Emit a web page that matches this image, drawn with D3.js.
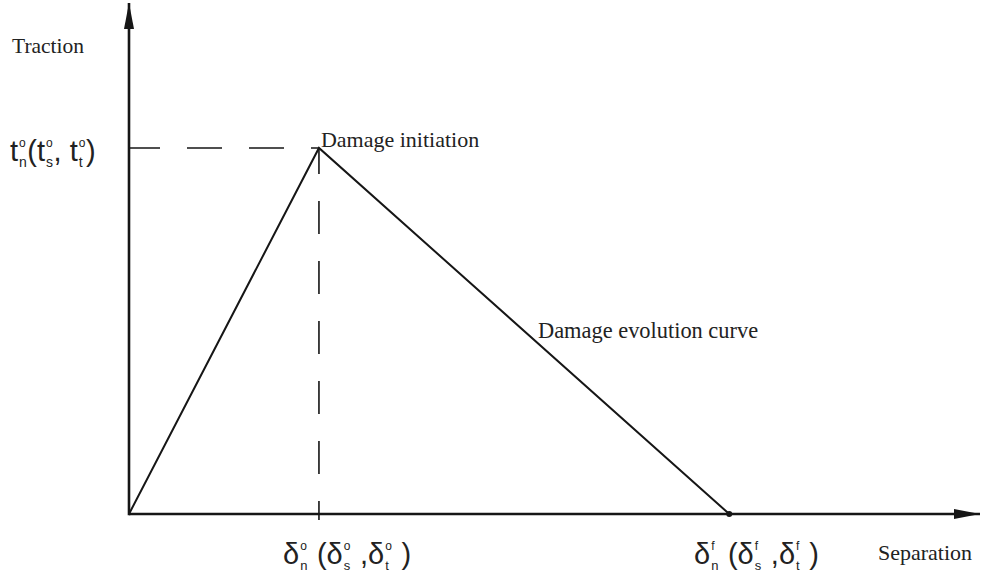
<!DOCTYPE html>
<html>
<head>
<meta charset="utf-8">
<script src="https://cdn.jsdelivr.net/npm/d3@7/dist/d3.min.js"></script>
<style>
  html, body { margin: 0; padding: 0; background: #fff; }
  svg { display: block; }
</style>
</head>
<body>
<svg id="chart" width="982" height="579"></svg>
<script>
// Bilinear traction–separation law (cohesive zone model)
const separation = [0, 1, 3.16];      // origin, damage initiation, complete failure
const traction   = [0, 1, 0];
const xAxisMax = 4.48;
const yAxisMax = 1.396;

const axisTitleX = "Separation";
const axisTitleY = "Traction";
const initiationLabel = "Damage initiation";
const evolutionLabel = "Damage evolution curve";

// math labels: [base, superscript, subscript] pieces, plain strings in between
const tractionPeakLabel = [["t", "o", "n"], "(", ["t", "o", "s"], ", ", ["t", "o", "t"], ")"];
const initSepLabel = [["δ", "o", "n"], " (", ["δ", "o", "s"], " ,", ["δ", "o", "t"], " )"];
const failSepLabel = [["δ", "f", "n"], " (", ["δ", "f", "s"], " ,", ["δ", "f", "t"], " )"];

const ox = 129, oy = 514;
const ink = "#161616";

const svg = d3.select("#chart");

const x = d3.scaleLinear().domain([0, xAxisMax]).range([ox, 980]);
const y = d3.scaleLinear().domain([0, yAxisMax]).range([oy, 3]);

// axes with arrowheads
const defs = svg.append("defs");
defs.append("marker")
  .attr("id", "arrow")
  .attr("viewBox", "0 0 26 12")
  .attr("refX", 26).attr("refY", 6)
  .attr("markerWidth", 26).attr("markerHeight", 12)
  .attr("markerUnits", "userSpaceOnUse")
  .attr("orient", "auto")
  .append("path")
  .attr("d", "M0,1 L26,6 L0,11 Z")
  .attr("fill", ink);

svg.append("line")
  .attr("x1", x(0)).attr("y1", y(0))
  .attr("x2", x(xAxisMax)).attr("y2", y(0))
  .attr("stroke", ink).attr("stroke-width", 2.6)
  .attr("marker-end", "url(#arrow)");

svg.append("line")
  .attr("x1", x(0)).attr("y1", y(0) + 1.3)
  .attr("x2", x(0)).attr("y2", y(yAxisMax))
  .attr("stroke", ink).attr("stroke-width", 2.6)
  .attr("marker-end", "url(#arrow)");

// dashed guides to the damage-initiation point
svg.append("line")
  .attr("x1", x(0)).attr("y1", y(traction[1]))
  .attr("x2", x(separation[1])).attr("y2", y(traction[1]))
  .attr("stroke", ink).attr("stroke-width", 1.6)
  .attr("stroke-dasharray", "35,27").attr("stroke-dashoffset", 4);

svg.append("line")
  .attr("x1", x(separation[1])).attr("y1", y(0) + 6)
  .attr("x2", x(separation[1])).attr("y2", y(traction[1]))
  .attr("stroke", ink).attr("stroke-width", 1.6)
  .attr("stroke-dasharray", "33,27").attr("stroke-dashoffset", 14);

// the traction–separation curve
const pts = separation.map((s, i) => [s, traction[i]]);
svg.append("path")
  .datum(pts)
  .attr("d", d3.line().x(d => x(d[0])).y(d => y(d[1])))
  .attr("fill", "none")
  .attr("stroke", ink).attr("stroke-width", 2)
  .attr("stroke-linejoin", "miter");

svg.append("circle")
  .attr("cx", x(separation[2])).attr("cy", y(traction[2]))
  .attr("r", 3).attr("fill", ink);

// plain text labels
const serif = "'Liberation Serif', 'Times New Roman', serif";
const sans = "'Liberation Sans', Arial, sans-serif";

function plain(txt, px, py, size) {
  svg.append("text")
    .attr("x", px).attr("y", py)
    .attr("font-family", serif).attr("font-size", size)
    .attr("fill", "#222")
    .text(txt);
}
plain(axisTitleY, 12, 53, 21.5);
plain(initiationLabel, x(separation[1]) + 2, y(traction[1]) - 1, 22);
plain(evolutionLabel, 538, 338, 22.4);
plain(axisTitleX, 878, 560, 22);

// math label: base glyph with stacked superscript/subscript
function mathLabel(parts, px, py, size, supSize, subSize, gapAfter) {
  const g = svg.append("g").attr("font-family", sans).attr("fill", "#222");
  let cx = px;
  const measure = (t) => t.node().getComputedTextLength();
  parts.forEach(p => {
    if (typeof p === "string") {
      const t = g.append("text").attr("x", cx).attr("y", py)
        .attr("font-size", size).attr("xml:space", "preserve").text(p);
      cx += measure(t);
    } else {
      const b = g.append("text").attr("x", cx).attr("y", py)
        .attr("font-size", size).text(p[0]);
      cx += measure(b) + 1;
      const sp = g.append("text").attr("x", cx).attr("y", py - size * 0.5)
        .attr("font-size", supSize).text(p[1]);
      const sb = g.append("text").attr("x", cx).attr("y", py + size * 0.2)
        .attr("font-size", subSize).text(p[2]);
      cx += Math.max(measure(sp), measure(sb)) + gapAfter;
    }
  });
  return cx;
}

mathLabel(tractionPeakLabel, 10, 161, 29, 12, 14, 0.5);
mathLabel(initSepLabel, 283, 564, 29, 12, 13, 1.5);
mathLabel(failSepLabel, 694, 564, 29, 12, 13, 1.5);
</script>
</body>
</html>
